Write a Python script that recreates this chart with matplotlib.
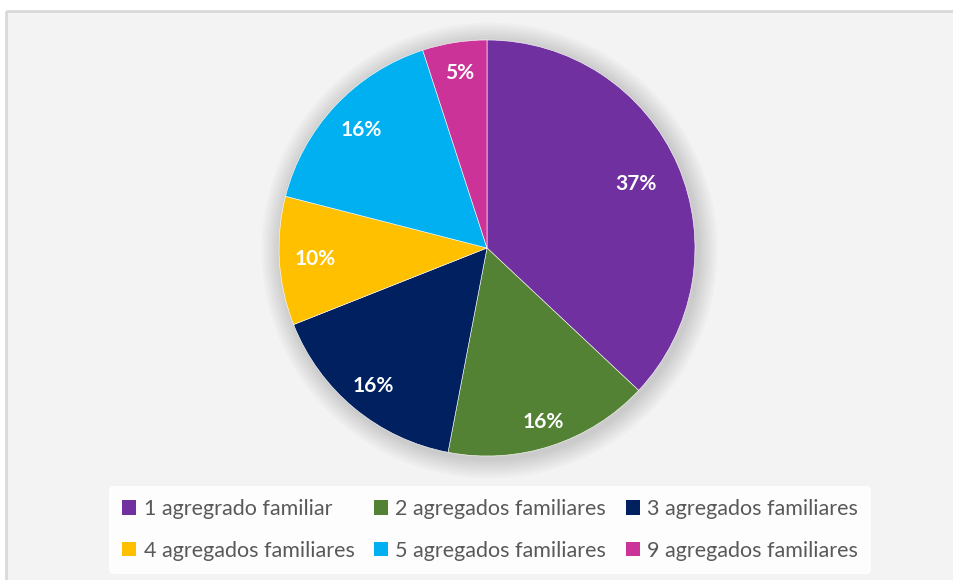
import matplotlib
matplotlib.use('Agg')
import matplotlib.pyplot as plt
from matplotlib.patches import Rectangle, Patch, Circle

# data
categorias = ['1 agregrado familiar', '2 agregados familiares', '3 agregados familiares',
              '4 agregados familiares', '5 agregados familiares', '9 agregados familiares']
percentagens = [37, 16, 16, 10, 16, 5]
cores = ['#7030A0', '#548235', '#002060', '#FFC000', '#00B0F0', '#CC3399']
# distancia radial de cada rotulo (aprox. ao original)
dist_rotulos = [0.78, 0.88, 0.86, 0.83, 0.83, 0.85]

plt.rcParams['font.family'] = ['Lato', 'DejaVu Sans']
plt.rcParams['hatch.linewidth'] = 2.0

W, H = 954, 580
fig = plt.figure(figsize=(W / 100, H / 100), dpi=100)
fig.patch.set_facecolor('white')

# fundo tracejado + borda (eixo de fundo)
bg = fig.add_axes([0, 0, 1, 1], zorder=-5)
bg.set_xlim(0, W)
bg.set_ylim(H, 0)
bg.axis('off')
bg.add_patch(Rectangle((6, 11), W + 20, H + 20, facecolor='white', edgecolor='#f3f3f3',
                       hatch='\\' * 12, lw=0))
bg.add_patch(Rectangle((6, 11), W + 20, H + 20, facecolor='none', edgecolor='#d9d9d9', lw=2))

cx, cy, R = 487, 248, 208
ax = fig.add_axes([(cx - R) / W, (H - cy - R) / H, 2 * R / W, 2 * R / H])
ax.axis('off')

# sombra suave
for i in range(8):
    ax.add_patch(Circle((0.012, -0.012), 1.0 + 0.012 * (8 - i), color='#000000',
                        alpha=0.018, lw=0, zorder=0, clip_on=False))

wedges, texts, autotexts = ax.pie(percentagens, colors=cores, startangle=90, counterclock=False,
                                  radius=1, autopct='%1.0f%%', pctdistance=0.83,
                                  wedgeprops=dict(lw=0.4, edgecolor='white'),
                                  textprops=dict(color='white', fontsize=15, fontweight='bold'))
for t, d in zip(autotexts, dist_rotulos):
    x, y = t.get_position()
    t.set_position((x / 0.83 * d, y / 0.83 * d))
for w in wedges:
    w.set_zorder(2)
ax.set_xlim(-1, 1)
ax.set_ylim(-1, 1)
ax.set_aspect('equal')

# legenda preenchida por linhas (3 colunas)
handles = [Patch(facecolor=c, edgecolor='none') for c in cores]
ordem = [0, 3, 1, 4, 2, 5]
leg = fig.legend([handles[i] for i in ordem], [categorias[i] for i in ordem],
                 loc='center', bbox_to_anchor=(490 / W, (H - 530) / H),
                 ncol=3, frameon=True, fontsize=15.5, handlelength=0.65, handleheight=0.65,
                 handletextpad=0.35, columnspacing=0.9, labelspacing=1.0, borderpad=0.6)
leg.get_frame().set_facecolor('#fdfdfd')
leg.get_frame().set_edgecolor('none')
leg.get_frame().set_alpha(1)
for t in leg.get_texts():
    t.set_color('#595959')

fig.savefig('out.png', dpi=100)
